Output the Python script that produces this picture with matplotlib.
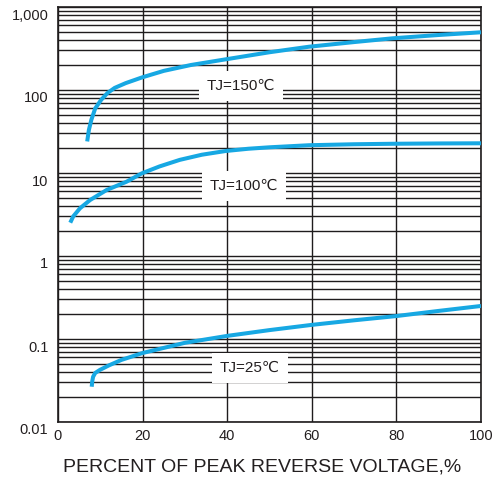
import matplotlib
matplotlib.use("Agg")
import matplotlib.pyplot as plt
from matplotlib.ticker import LogLocator, FixedLocator, NullFormatter
from matplotlib.transforms import ScaledTranslation

# ---- data ----
x_150 = [6.9, 7.3, 7.9, 8.8, 10.2, 11.7, 13.4, 16.0, 19.9, 25.0, 31.4, 39.6, 50.0, 59.3, 70.0, 79.2, 90.0, 100.0]
y_150 = [24, 33, 44, 60, 76, 92, 106, 121, 142, 170, 200, 234, 285, 332, 378, 420, 460, 496]

x_100 = [2.9, 3.6, 5.2, 7.6, 11.5, 16.2, 19.8, 24.0, 28.8, 34.0, 39.6, 45.0, 50.0, 59.3, 70.0, 79.2, 90.0, 100.0]
y_100 = [2.52, 3.0, 3.76, 4.73, 6.24, 7.85, 9.9, 12.0, 14.4, 16.6, 18.4, 19.6, 20.4, 21.6, 22.2, 22.5, 22.7, 22.8]

x_25 = [7.97, 8.1, 8.3, 8.8, 9.9, 12.0, 15.0, 20.0, 30.0, 40.0, 50.0, 60.0, 70.0, 80.0, 90.0, 100.0]
y_25 = [0.0266, 0.031, 0.0351, 0.039, 0.0424, 0.048, 0.056, 0.0678, 0.09, 0.109, 0.128, 0.148, 0.168, 0.189, 0.218, 0.250]

curve_labels = ["TJ=150\u2103", "TJ=100\u2103", "TJ=25\u2103"]
label_pos = [(43.3, 111.7), (44.0, 6.96), (45.4, 0.0448)]

x_ticks = [0, 20, 40, 60, 80, 100]
x_ticklabels = ["0", "20", "40", "60", "80", "100"]
y_ticks = [0.01, 0.1, 1, 10, 100, 1000]
y_ticklabels = ["0.01", "0.1", "1", "10", "100", "1,000"]
x_title = "PERCENT OF PEAK REVERSE VOLTAGE,%"

# ---- style ----
W, H = 503, 482
plt.rcParams['font.family'] = ['Liberation Sans', 'DejaVu Sans']
fig = plt.figure(figsize=(W / 100, H / 100), dpi=100)
ax = fig.add_axes([58 / W, 1 - 422 / H, (481 - 58) / W, (422 - 7) / H])
ax.set_xlim(0, 100)
ax.set_yscale('log')
ax.set_ylim(0.01, 1000)

grid_color = '#1f1c1d'
curve_color = '#17a8e3'
text_color = '#231f20'

ax.xaxis.set_major_locator(FixedLocator(x_ticks))
ax.set_xticklabels(x_ticklabels)
ax.yaxis.set_major_locator(FixedLocator(y_ticks))
ax.set_yticklabels(y_ticklabels)
ax.yaxis.set_minor_locator(LogLocator(base=10, subs=range(2, 10), numticks=20))
ax.yaxis.set_minor_formatter(NullFormatter())
ax.tick_params(which='both', length=0, labelsize=10.5, colors=text_color)
ax.tick_params(axis='x', pad=5)
ax.tick_params(axis='y', pad=7)

ax.grid(True, which='major', axis='both', color=grid_color, lw=1.0)
ax.grid(True, which='minor', axis='y', color=grid_color, lw=1.0)
ax.set_axisbelow(True)
for s in ax.spines.values():
    s.set_color(grid_color)
    s.set_linewidth(1.2)

# y tick labels sit a little below their grid lines in the reference
off = ScaledTranslation(0, -7 / 100, fig.dpi_scale_trans)
for lab in ax.get_yticklabels():
    lab.set_transform(lab.get_transform() + off)

for xs, ys in [(x_150, y_150), (x_100, y_100), (x_25, y_25)]:
    ax.plot(xs, ys, color=curve_color, lw=2.9, solid_capstyle='butt',
            solid_joinstyle='round', zorder=5)

for txt, (lx, ly) in zip(curve_labels, label_pos):
    ax.text(lx, ly, txt, ha='center', va='center', fontsize=11, color=text_color, zorder=6,
            bbox=dict(boxstyle='square,pad=0.5', fc='white', ec='none'))

fig.text(262 / W, 1 - 467 / H, x_title, ha='center', va='center', fontsize=14, color=text_color)

fig.savefig('out.png', dpi=100)
